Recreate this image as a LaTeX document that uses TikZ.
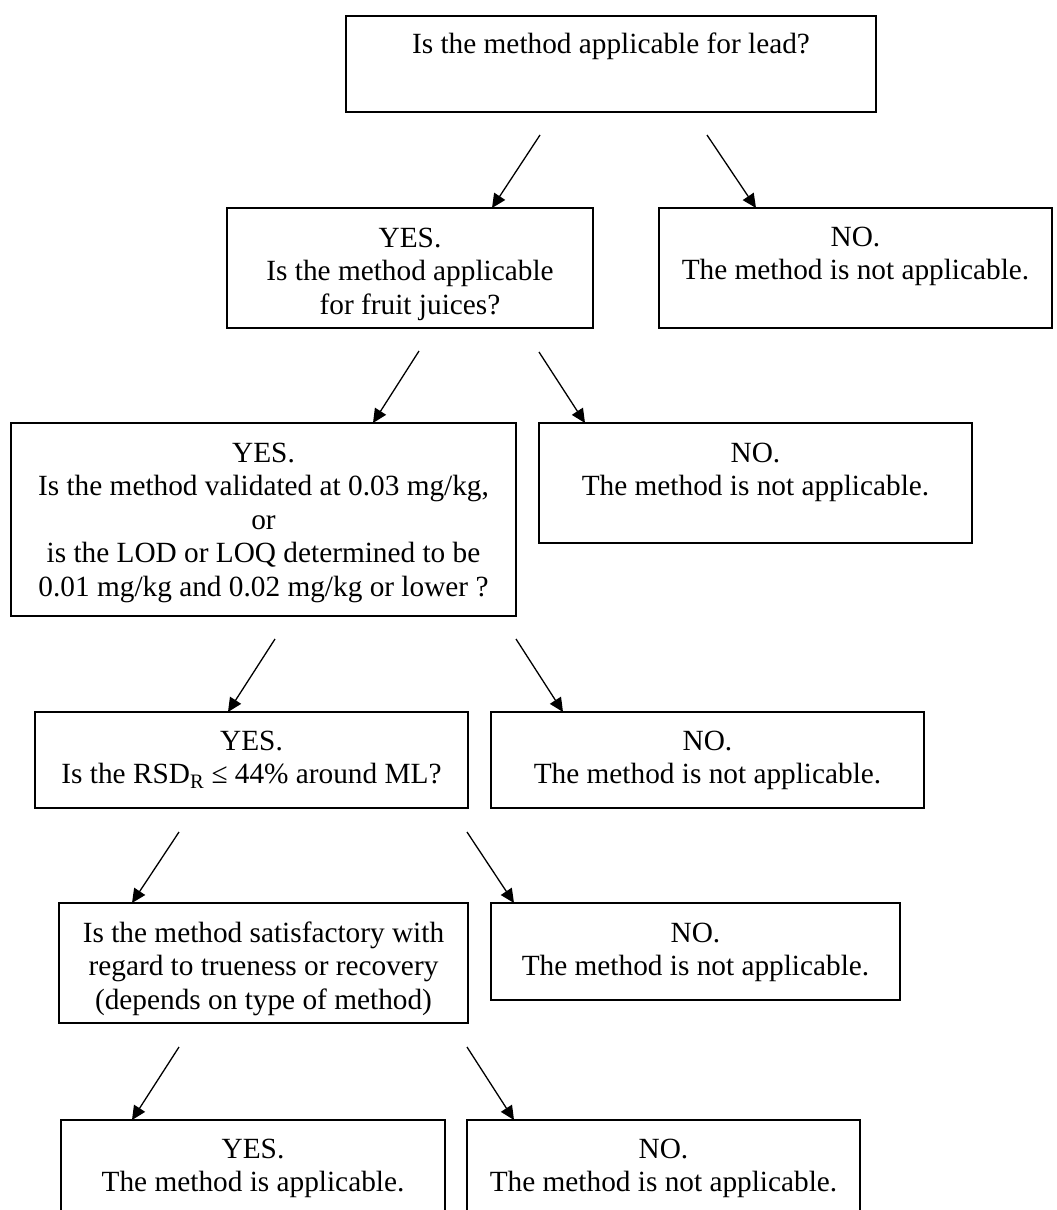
\documentclass[tikz,border=0pt]{standalone}
\usepackage{fontspec}
\setmainfont{Liberation Serif}
\usetikzlibrary{arrows.meta}
\tikzset{
  box/.style={draw=black, line width=1.6pt, rectangle, inner sep=0pt, outer sep=0pt, anchor=north west},
  txt/.style={inner sep=0pt, outer sep=0pt, anchor=base, align=center, font=\fontsize{29.3}{33.6}\selectfont},
  arr/.style={draw=black, line width=1.3pt, -{Triangle[length=14pt,width=13pt]}}
}
\begin{document}
\begin{tikzpicture}[x=1pt,y=-1pt]
\useasboundingbox[fill=white] (0,0) rectangle (1057,1210);
% boxes
\node[box, minimum width=530pt, minimum height=96pt]  (b1)  at (346,16)  {};
\node[box, minimum width=366pt, minimum height=120pt] (b2)  at (227,208) {};
\node[box, minimum width=393pt, minimum height=120pt] (b3)  at (659,208) {};
\node[box, minimum width=505pt, minimum height=193pt] (b4)  at (11,423)  {};
\node[box, minimum width=433pt, minimum height=120pt] (b5)  at (539,423) {};
\node[box, minimum width=433pt, minimum height=96pt]  (b6)  at (35,712)  {};
\node[box, minimum width=433pt, minimum height=96pt]  (b7)  at (491,712) {};
\node[box, minimum width=409pt, minimum height=120pt] (b8)  at (59,903)  {};
\node[box, minimum width=409pt, minimum height=97pt]  (b9)  at (491,903) {};
\node[box, minimum width=384pt, minimum height=96pt]  (b10) at (61,1120) {};
\node[box, minimum width=393pt, minimum height=96pt]  (b11) at (467,1120) {};
% texts (anchor base = baseline of the last line)
\node[txt] (t1)  at (611,53)     {Is the method applicable for lead?};
\node[txt] (t2)  at (410,314.2)  {YES.\\Is the method applicable\\for fruit juices?};
\node[txt] (t3)  at (855.5,279.6){NO.\\The method is not applicable.};
\node[txt] (t4)  at (263.5,596.4){YES.\\Is the method validated at 0.03 mg/kg,\\or\\is the LOD or LOQ determined to be\\0.01 mg/kg and 0.02 mg/kg or lower ?};
\node[txt] (t5)  at (755.5,495.6){NO.\\The method is not applicable.};
\node[txt] (t6)  at (251.5,783.6){YES.\\Is the RSD\textsubscript{R} ≤ 44\% around ML?};
\node[txt] (t7)  at (707.5,783.6){NO.\\The method is not applicable.};
\node[txt] (t8)  at (263.5,1009.2){Is the method satisfactory with\\regard to trueness or recovery\\(depends on type of method)};
\node[txt] (t9)  at (695.5,975.6){NO.\\The method is not applicable.};
\node[txt] (t10) at (253,1191.6) {YES.\\The method is applicable.};
\node[txt] (t11) at (663.5,1191.6){NO.\\The method is not applicable.};
% arrow start points
\coordinate (s1)  at (540,135);
\coordinate (s2)  at (707,135);
\coordinate (s3)  at (419,351);
\coordinate (s4)  at (539,352);
\coordinate (s5)  at (275,639);
\coordinate (s6)  at (516,639);
\coordinate (s7)  at (179,832);
\coordinate (s8)  at (467,832);
\coordinate (s9)  at (179,1047);
\coordinate (s10) at (467,1047);
% arrows
\draw[arr] (s1)  -- ([xshift=265pt]b2.north west);
\draw[arr] (s2)  -- ([xshift=97pt]b3.north west);
\draw[arr] (s3)  -- ([xshift=362pt]b4.north west);
\draw[arr] (s4)  -- ([xshift=46pt]b5.north west);
\draw[arr] (s5)  -- ([xshift=193pt]b6.north west);
\draw[arr] (s6)  -- ([xshift=72pt]b7.north west);
\draw[arr] (s7)  -- ([xshift=73pt]b8.north west);
\draw[arr] (s8)  -- ([xshift=23pt]b9.north west);
\draw[arr] (s9)  -- ([xshift=71pt]b10.north west);
\draw[arr] (s10) -- ([xshift=47pt]b11.north west);
\end{tikzpicture}
\end{document}
